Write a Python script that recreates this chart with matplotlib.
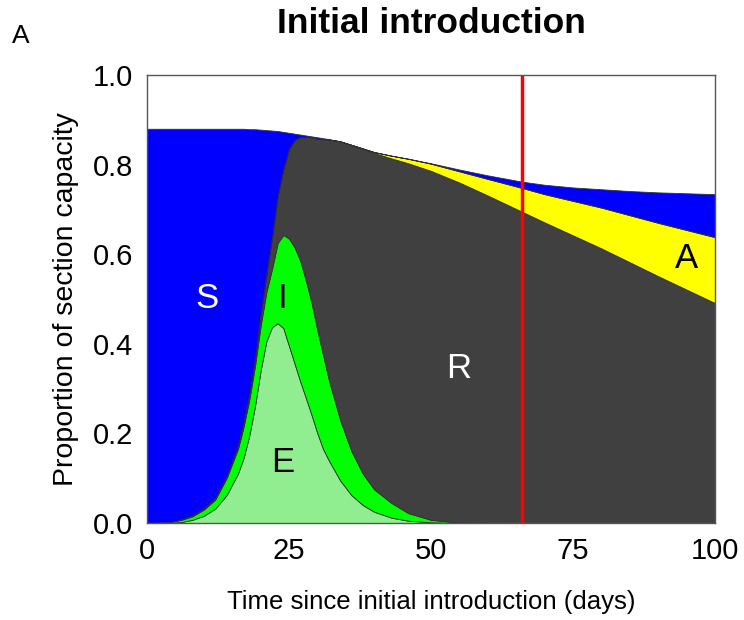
import numpy as np
import matplotlib
matplotlib.use("Agg")
import matplotlib.pyplot as plt

plt.rcParams['font.family'] = ['Liberation Sans', 'DejaVu Sans']

# days
days = [0, 4, 6, 8, 10, 12, 14, 16, 17, 18, 19, 20, 21, 22, 23, 24, 25, 26, 27, 28,
        29, 30, 31, 32, 34, 36, 38, 40, 43, 46, 50, 55, 60, 66, 70, 75, 80, 85, 90, 95, 100]

# compartments (proportion of section capacity), stacked bottom to top
exposed = [0, 0.0005, 0.002, 0.007, 0.016, 0.032, 0.062, 0.110, 0.145, 0.195,
           0.260, 0.340, 0.405, 0.437, 0.446, 0.435, 0.395, 0.355, 0.315, 0.278,
           0.240, 0.200, 0.165, 0.140, 0.095, 0.062, 0.040, 0.025, 0.012, 0.005,
           0.0015, 0, 0, 0, 0, 0, 0, 0, 0, 0, 0]
infectious = [0, 0.0015, 0.005, 0.008, 0.014, 0.020, 0.038, 0.055, 0.070, 0.080,
              0.090, 0.100, 0.110, 0.130, 0.179, 0.208, 0.240, 0.260, 0.270, 0.262,
              0.250, 0.230, 0.210, 0.180, 0.135, 0.098, 0.070, 0.050, 0.033, 0.017,
              0.0055, 0.001, 0, 0, 0, 0, 0, 0, 0, 0, 0]
recovered = [0, 0, 0.001, 0.002, 0.003, 0.004, 0.004, 0.008, 0.010, 0.013,
             0.017, 0.025, 0.040, 0.070, 0.105, 0.147, 0.200, 0.240, 0.277, 0.322,
             0.371, 0.428, 0.482, 0.536, 0.622, 0.684, 0.726, 0.751, 0.769, 0.781,
             0.779, 0.759, 0.731, 0.695, 0.671, 0.642, 0.613, 0.582, 0.551, 0.521, 0.491]
antibody = [0, 0, 0, 0, 0, 0, 0, 0, 0, 0,
            0, 0, 0, 0, 0, 0, 0, 0, 0, 0,
            0, 0, 0, 0, 0, 0, 0, 0.002, 0.006, 0.010,
            0.016, 0.025, 0.037, 0.053, 0.063, 0.077, 0.091, 0.105, 0.119, 0.133, 0.147]
susceptible = [0.880, 0.878, 0.872, 0.863, 0.847, 0.824, 0.776, 0.707, 0.655, 0.591,
               0.512, 0.413, 0.322, 0.239, 0.145, 0.083, 0.036, 0.014, 0.005, 0.003,
               0.002, 0.003, 0.002, 0.001, 0, 0, 0, 0, 0, 0,
               0.001, 0.004, 0.008, 0.014, 0.021, 0.030, 0.041, 0.054, 0.068, 0.082, 0.096]

intervention_day = 66

colors = ['#90ee90', '#00ff00', '#404040', '#ffff00', '#0000ff']

fig = plt.figure(figsize=(7.44, 6.2), dpi=100)
ax = fig.add_axes([0.1976, 0.1565, 0.7634, 0.7225])

ax.stackplot(days, exposed, infectious, recovered, antibody, susceptible,
             colors=colors, edgecolor='#303030', linewidth=0.6)
ax.axvline(intervention_day, color='#ff0000', lw=2.5)

# compartment labels
ax.text(10.6, 0.50, 'S', color='white', fontsize=25, ha='center', va='center')
ax.text(23.9, 0.50, 'I', color='black', fontsize=25, ha='center', va='center')
ax.text(23.9, 0.135, 'E', color='black', fontsize=25, ha='center', va='center')
ax.text(54.8, 0.345, 'R', color='white', fontsize=25, ha='center', va='center')
ax.text(94.9, 0.59, 'A', color='black', fontsize=25, ha='center', va='center')

ax.set_xlim(0, 100)
ax.set_ylim(0, 1)
ax.set_xticks([0, 25, 50, 75, 100])
ax.set_yticks([0, 0.2, 0.4, 0.6, 0.8, 1.0])
ax.set_yticklabels(['0.0', '0.2', '0.4', '0.6', '0.8', '1.0'])
ax.tick_params(length=0, labelsize=21, pad=10)
for s in ax.spines.values():
    s.set_color('#555555')
    s.set_linewidth(1.0)

ax.set_xlabel('Time since initial introduction (days)', fontsize=18.5, labelpad=18)
ax.set_ylabel('Proportion of section capacity', fontsize=20.5, labelpad=10)
ax.set_title('Initial introduction', fontsize=25.5, fontweight='bold', pad=30)
fig.text(0.016, 0.93, 'A', fontsize=19)

fig.savefig('out.png', dpi=100)
